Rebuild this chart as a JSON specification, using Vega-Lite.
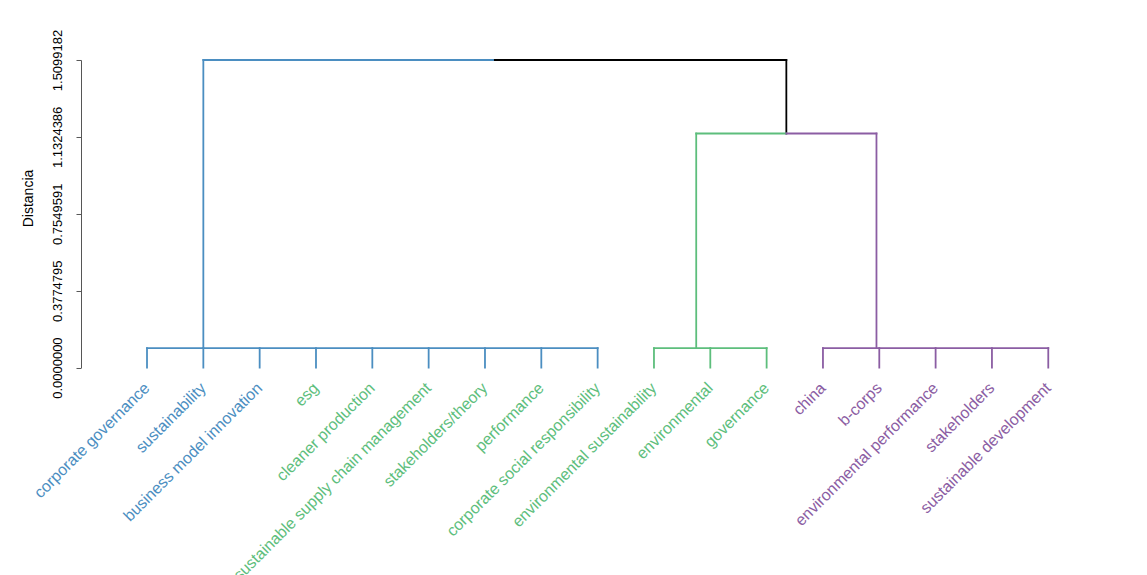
{
  "$schema": "https://vega.github.io/schema/vega-lite/v6.json",
  "autosize": {"type": "none"},
  "padding": {"left": 81, "top": 60, "right": 30, "bottom": 207},
  "width": 1036,
  "height": 307.6,
  "config": {"view": {"stroke": null}, "font": "Liberation Sans"},
  "datasets": {
    "segs": [
      {"x": 1, "x2": 1, "h": 0, "h2": 0.096, "g": "c1"},
      {"x": 2, "x2": 2, "h": 0, "h2": 0.096, "g": "c1"},
      {"x": 3, "x2": 3, "h": 0, "h2": 0.096, "g": "c1"},
      {"x": 4, "x2": 4, "h": 0, "h2": 0.096, "g": "c1"},
      {"x": 5, "x2": 5, "h": 0, "h2": 0.096, "g": "c1"},
      {"x": 6, "x2": 6, "h": 0, "h2": 0.096, "g": "c1"},
      {"x": 7, "x2": 7, "h": 0, "h2": 0.096, "g": "c1"},
      {"x": 8, "x2": 8, "h": 0, "h2": 0.096, "g": "c1"},
      {"x": 9, "x2": 9, "h": 0, "h2": 0.096, "g": "c1"},
      {"x": 1, "x2": 9, "h": 0.096, "h2": 0.096, "g": "c1"},
      {"x": 2, "x2": 2, "h": 0.096, "h2": 1.5099182, "g": "c1"},
      {"x": 2, "x2": 7.175, "h": 1.5099182, "h2": 1.5099182, "g": "c1"},
      {"x": 7.175, "x2": 12.35, "h": 1.5099182, "h2": 1.5099182, "g": "c0"},
      {"x": 12.35, "x2": 12.35, "h": 1.5099182, "h2": 1.149, "g": "c0"},
      {"x": 10.75, "x2": 12.35, "h": 1.149, "h2": 1.149, "g": "c2"},
      {"x": 10.75, "x2": 10.75, "h": 1.149, "h2": 0.096, "g": "c2"},
      {"x": 10, "x2": 12, "h": 0.096, "h2": 0.096, "g": "c2"},
      {"x": 10, "x2": 10, "h": 0, "h2": 0.096, "g": "c2"},
      {"x": 11, "x2": 11, "h": 0, "h2": 0.096, "g": "c2"},
      {"x": 12, "x2": 12, "h": 0, "h2": 0.096, "g": "c2"},
      {"x": 12.35, "x2": 13.95, "h": 1.149, "h2": 1.149, "g": "c3"},
      {"x": 13.95, "x2": 13.95, "h": 1.149, "h2": 0.096, "g": "c3"},
      {"x": 13, "x2": 17, "h": 0.096, "h2": 0.096, "g": "c3"},
      {"x": 13, "x2": 13, "h": 0, "h2": 0.096, "g": "c3"},
      {"x": 14, "x2": 14, "h": 0, "h2": 0.096, "g": "c3"},
      {"x": 15, "x2": 15, "h": 0, "h2": 0.096, "g": "c3"},
      {"x": 16, "x2": 16, "h": 0, "h2": 0.096, "g": "c3"},
      {"x": 17, "x2": 17, "h": 0, "h2": 0.096, "g": "c3"}
    ],
    "leaves": [
      {"pos": 1, "label": "corporate governance", "g": "c1"},
      {"pos": 2, "label": "sustainability", "g": "c1"},
      {"pos": 3, "label": "business model innovation", "g": "c1"},
      {"pos": 4, "label": "esg", "g": "c2"},
      {"pos": 5, "label": "cleaner production", "g": "c2"},
      {"pos": 6, "label": "sustainable supply chain management", "g": "c2"},
      {"pos": 7, "label": "stakeholders/theory", "g": "c2"},
      {"pos": 8, "label": "performance", "g": "c2"},
      {"pos": 9, "label": "corporate social responsibility", "g": "c2"},
      {"pos": 10, "label": "environmental sustainability", "g": "c2"},
      {"pos": 11, "label": "environmental", "g": "c2"},
      {"pos": 12, "label": "governance", "g": "c2"},
      {"pos": 13, "label": "china", "g": "c3"},
      {"pos": 14, "label": "b-corps", "g": "c3"},
      {"pos": 15, "label": "environmental performance", "g": "c3"},
      {"pos": 16, "label": "stakeholders", "g": "c3"},
      {"pos": 17, "label": "sustainable development", "g": "c3"}
    ]
  },
  "layer": [
    {
      "mark": {"type": "rule", "color": "#c8c8c8", "strokeDash": [5, 3], "strokeWidth": 1},
      "encoding": {"y": {"datum": 0.096, "type": "quantitative"}}
    },
    {
      "data": {"name": "segs"},
      "mark": {"type": "rule", "strokeWidth": 1.8, "strokeCap": "square"},
      "encoding": {
        "x": {"field": "x", "type": "quantitative", "scale": {"domain": [-0.1717, 18.22], "nice": false, "zero": false}, "axis": null},
        "x2": {"field": "x2"},
        "y": {"field": "h", "type": "quantitative", "scale": {"domain": [0, 1.5099182], "nice": false, "zero": false},
          "axis": {
            "values": [0, 0.3774795, 0.7549591, 1.1324386, 1.5099182],
            "format": ".7f",
            "title": "Distancia",
            "grid": false,
            "domainColor": "#555",
            "tickColor": "#555",
            "tickSize": 5,
            "labelAngle": 270,
            "labelAlign": "center",
            "labelBaseline": "alphabetic",
            "labelPadding": 14.5,
            "labelFontSize": 13,
            "labelColor": "#000",
            "labelFont": "Liberation Sans",
            "labelOverlap": false,
            "labelFlush": false,
            "titleFont": "Liberation Sans",
            "titleFontSize": 14,
            "titleFontWeight": "normal",
            "titleColor": "#000",
            "titleAngle": 270,
            "titleAlign": "center",
            "titleBaseline": "alphabetic",
            "titleX": -49,
            "titleY": 138
          }},
        "y2": {"field": "h2"},
        "color": {"field": "g", "type": "nominal", "scale": {"domain": ["c0", "c1", "c2", "c3"], "range": ["#000000", "#4B8EC1", "#5DBE7C", "#8B5DA3"]}, "legend": null}
      }
    },
    {
      "data": {"name": "leaves"},
      "mark": {"type": "text", "angle": 315, "align": "right", "baseline": "middle", "dx": -12.7, "dy": 12.7, "fontSize": 16, "font": "Liberation Sans"},
      "encoding": {
        "x": {"field": "pos", "type": "quantitative"},
        "y": {"datum": 0, "type": "quantitative"},
        "text": {"field": "label"},
        "color": {"field": "g", "type": "nominal", "legend": null}
      }
    }
  ]
}
